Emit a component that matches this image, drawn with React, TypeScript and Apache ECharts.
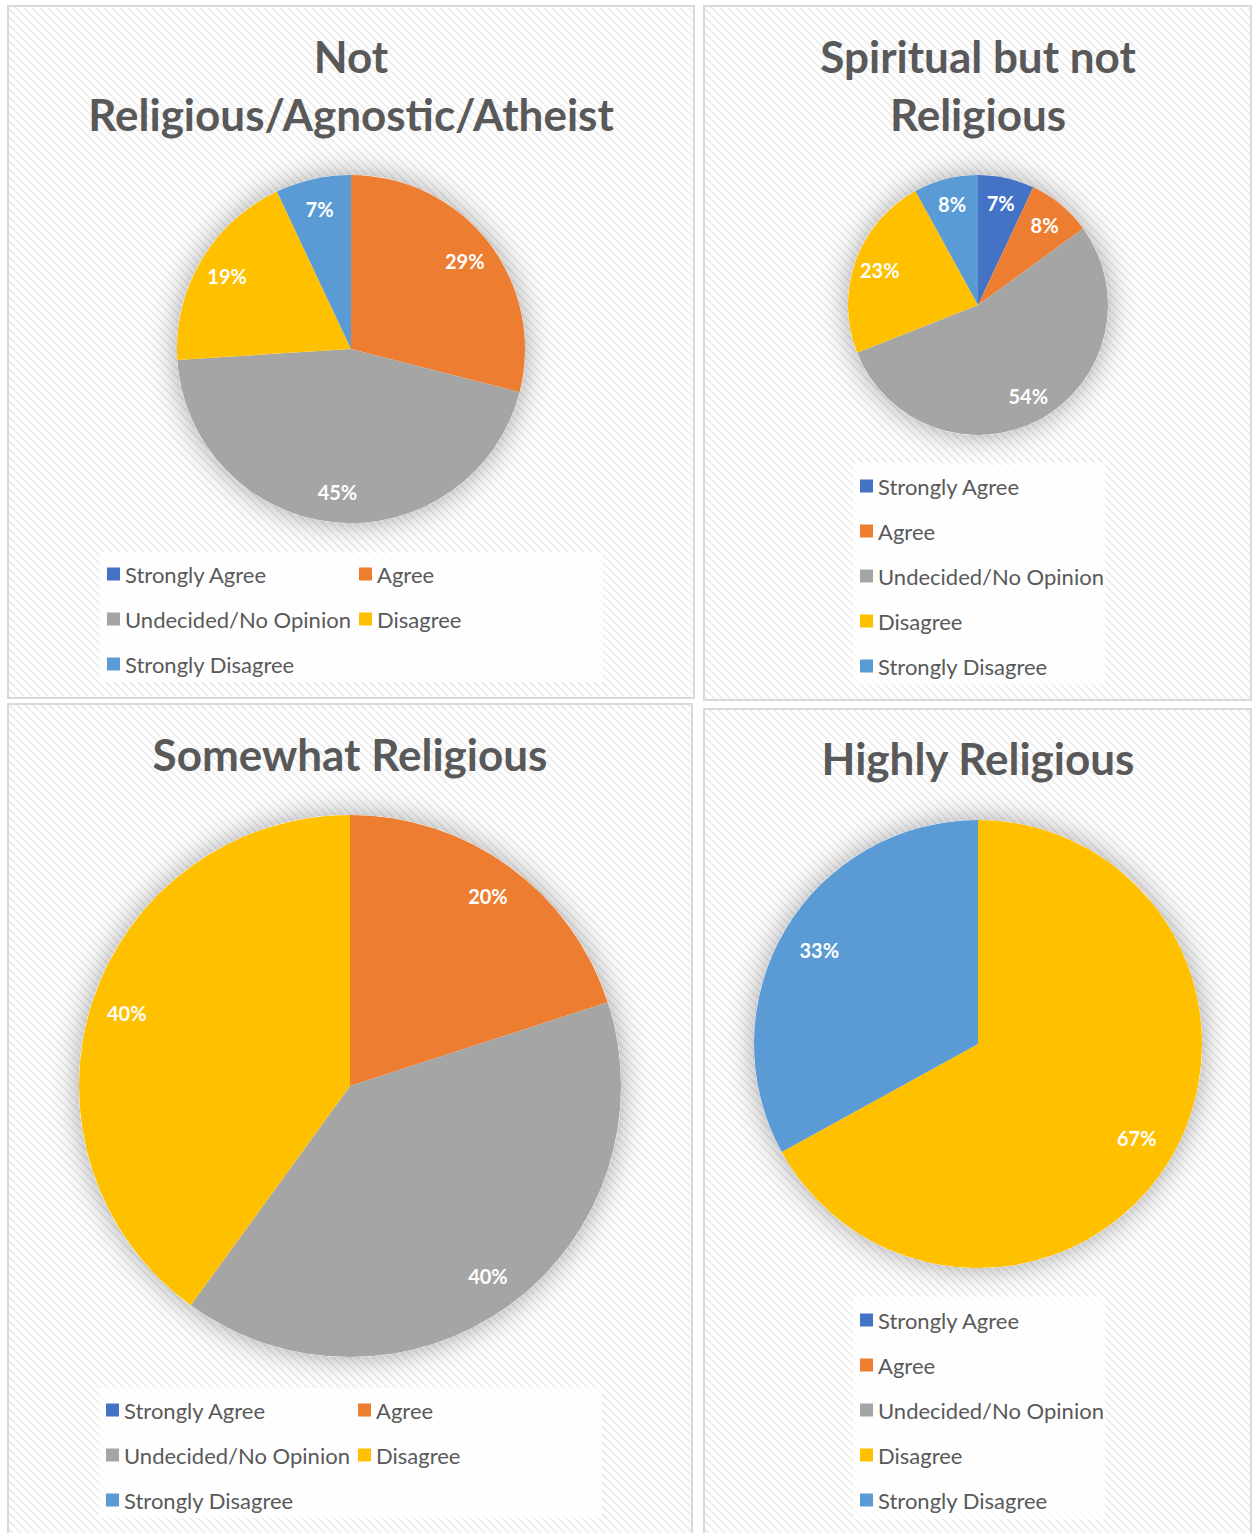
import React, { useEffect, useRef } from "react";
import * as echarts from "echarts";

const categories = ["Strongly Agree", "Agree", "Undecided/No Opinion", "Disagree", "Strongly Disagree"];
const colors = ["#4472C4", "#ED7D31", "#A5A5A5", "#FFC000", "#5B9BD5"];

const notReligiousValues = [0, 29, 45, 19, 7];
const spiritualValues = [7, 8, 54, 23, 8];
const somewhatValues = [0, 20, 40, 40, 0];
const highlyValues = [0, 0, 0, 67, 33];

const chartTitles = [
  "Not\nReligious/Agnostic/Atheist",
  "Spiritual but not\nReligious",
  "Somewhat Religious",
  "Highly Religious",
];

const FONT = "Lato, 'Noto Sans', sans-serif";
const TEXT_COLOR = "#595959";

type Panel = {
  title: string;
  values: number[];
  box: [number, number, number, number];
  titleX: number;
  titleTop: number;
  center: [number, number];
  radius: number;
  labelFactor: number;
  legendCols: { left: number; names: string[] }[];
  legendTop: number;
  legendBox: [number, number, number, number];
};

const panels: Panel[] = [
  {
    title: chartTitles[0],
    values: notReligiousValues,
    box: [7, 5, 688, 694],
    titleX: 351,
    titleTop: 27,
    center: [351, 349],
    radius: 174,
    labelFactor: 0.81,
    legendCols: [
      { left: 107, names: [categories[0], categories[2], categories[4]] },
      { left: 359, names: [categories[1], categories[3]] },
    ],
    legendTop: 561,
    legendBox: [100, 552, 503, 130],
  },
  {
    title: chartTitles[1],
    values: spiritualValues,
    box: [703, 5, 549, 696],
    titleX: 978,
    titleTop: 27,
    center: [978, 305],
    radius: 130,
    labelFactor: 0.78,
    legendCols: [{ left: 860, names: categories }],
    legendTop: 473,
    legendBox: [853, 463, 252, 222],
  },
  {
    title: chartTitles[2],
    values: somewhatValues,
    box: [7, 703, 686, 850],
    titleX: 350,
    titleTop: 725,
    center: [350, 1086],
    radius: 271,
    labelFactor: 0.855,
    legendCols: [
      { left: 106, names: [categories[0], categories[2], categories[4]] },
      { left: 358, names: [categories[1], categories[3]] },
    ],
    legendTop: 1397,
    legendBox: [99, 1388, 503, 130],
  },
  {
    title: chartTitles[3],
    values: highlyValues,
    box: [703, 708, 549, 850],
    titleX: 978,
    titleTop: 729,
    center: [978, 1044],
    radius: 224,
    labelFactor: 0.81,
    legendCols: [{ left: 860, names: categories }],
    legendTop: 1307,
    legendBox: [853, 1297, 252, 222],
  },
];

function makeHatch(): HTMLCanvasElement {
  const c = document.createElement("canvas");
  c.width = 8;
  c.height = 8;
  const ctx = c.getContext("2d")!;
  ctx.fillStyle = "#ffffff";
  ctx.fillRect(0, 0, 8, 8);
  ctx.strokeStyle = "#eeeeee";
  ctx.lineWidth = 2.2;
  for (const off of [-8, 0, 8]) {
    ctx.beginPath();
    ctx.moveTo(off, 0);
    ctx.lineTo(off + 8, 8);
    ctx.stroke();
  }
  return c;
}

export default function App() {
  const ref = useRef<HTMLDivElement>(null);

  useEffect(() => {
    document.body.style.margin = "0";
    if (!ref.current) return;
    const chart = echarts.init(ref.current, undefined, { renderer: "svg" });
    const hatch = makeHatch();

    const graphics: any[] = [];
    const titles: any[] = [];
    const legends: any[] = [];
    const series: any[] = [];

    panels.forEach((p, i) => {
      graphics.push({
        type: "rect",
        z: 0,
        silent: true,
        shape: { x: p.box[0] + 1, y: p.box[1] + 1, width: p.box[2] - 2, height: p.box[3] - 2 },
        style: { fill: { image: hatch, repeat: "repeat" }, stroke: "#d9d9d9", lineWidth: 2 },
      });
      graphics.push({
        type: "rect",
        z: 1,
        silent: true,
        shape: { x: p.legendBox[0], y: p.legendBox[1], width: p.legendBox[2], height: p.legendBox[3] },
        style: { fill: "rgba(255,255,255,0.8)" },
      });

      titles.push({
        text: p.title,
        left: p.titleX,
        top: p.titleTop,
        textAlign: "center",
        padding: 0,
        textStyle: {
          fontFamily: FONT,
          fontSize: 44,
          fontWeight: "bold",
          lineHeight: 58,
          color: TEXT_COLOR,
        },
      });

      p.legendCols.forEach((col) => {
        legends.push({
          orient: "vertical",
          left: col.left,
          top: p.legendTop,
          padding: 0,
          itemGap: 19,
          itemWidth: 13,
          itemHeight: 13,
          icon: "rect",
          selectedMode: false,
          data: col.names,
          textStyle: { fontFamily: FONT, fontSize: 22, lineHeight: 26, color: TEXT_COLOR },
        });
      });

      const data = categories.map((name, k) => ({
        name,
        value: p.values[k],
        itemStyle: { color: colors[k] },
      }));

      series.push({
        type: "pie",
        name: "shadow" + i,
        silent: true,
        center: p.center,
        radius: p.radius,
        z: 1,
        label: { show: false },
        labelLine: { show: false },
        itemStyle: { color: "#ffffff", shadowBlur: 30, shadowColor: "rgba(0,0,0,0.35)" },
        data: [{ name: "bg" + i, value: 1 }],
      });
      series.push({
        type: "pie",
        name: p.title,
        center: p.center,
        radius: p.radius,
        startAngle: 90,
        clockwise: true,
        z: 2,
        label: { show: false },
        labelLine: { show: false },
        itemStyle: { borderWidth: 0 },
        emphasis: { disabled: true },
        data,
      });
      series.push({
        type: "pie",
        name: "labels" + i,
        silent: true,
        center: p.center,
        radius: [(2 * p.labelFactor - 1) * p.radius, p.radius],
        startAngle: 90,
        clockwise: true,
        z: 3,
        itemStyle: { color: "rgba(0,0,0,0)" },
        labelLine: { show: false },
        emphasis: { disabled: true },
        label: {
          show: true,
          position: "inside",
          fontFamily: FONT,
          fontSize: 20,
          fontWeight: "bold",
          color: "#ffffff",
          formatter: (prm: any) => (prm.value > 0 ? prm.value + "%" : ""),
        },
        data: categories.map((name, k) => ({ name, value: p.values[k] })),
      });
    });

    chart.setOption({
      animation: false,
      backgroundColor: "#ffffff",
      title: titles,
      legend: legends,
      graphic: graphics,
      series,
    });

    return () => chart.dispose();
  }, []);

  return <div ref={ref} style={{ width: 1253, height: 1533 }} />;
}
